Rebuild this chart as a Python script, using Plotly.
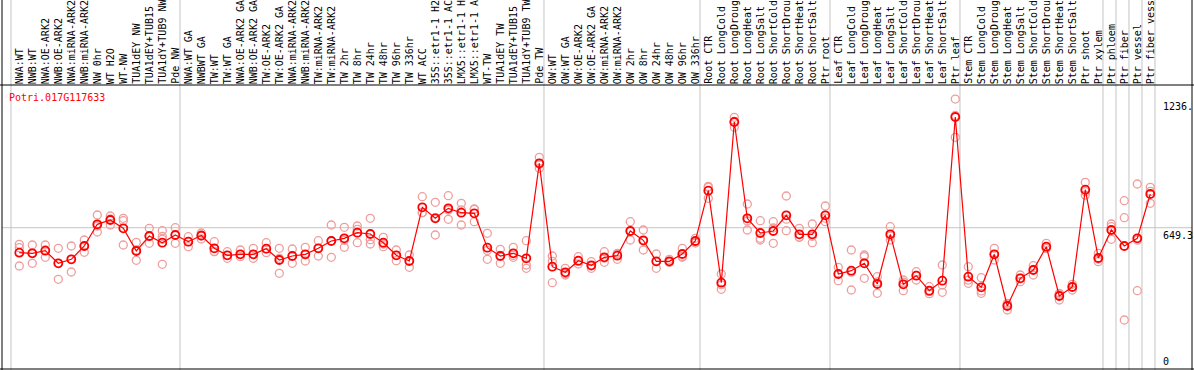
import plotly.graph_objects as go

# ---------------- data ----------------
labels = [
    "NWA:WT", "NWB:WT", "NWA:OE-ARK2", "NWB:OE-ARK2", "NWA:miRNA-ARK2", "NWB:miRNA-ARK2",
    "NW 0hr", "WT H2O", "WT-NW", "TUA1dEY NW", "TUA1dEY+TUB15", "TUA1dY+TUB9 NW", "Pde NW",
    "NWA:WT GA", "NWBWT GA", "TW:WT", "TW:WT GA", "NWA:OE-ARK2 GA", "NWB:OE-ARK2 GA",
    "TW:OE-ARK2", "TW:OE-ARK2 GA", "NWA:miRNA-ARK2", "NWB:miRNA-ARK2", "TW:miRNA-ARK2",
    "TW:miRNA-ARK2", "TW 2hr", "TW 8hr", "TW 24hr", "TW 48hr", "TW 96hr", "TW 336hr",
    "WT ACC", "35S::etr1-1 H2O", "35S::etr1-1 ACC", "LMX5::etr1-1 H2O", "LMX5::etr1-1 ACC",
    "WT-TW", "TUA1dEY TW", "TUA1dEY+TUB15", "TUA1dY+TUB9 TW", "Pde TW",
    "OW:WT", "OW:WT GA", "OW:OE-ARK2", "OW:OE-ARK2 GA", "OW:miRNA-ARK2", "OW:miRNA-ARK2",
    "OW 2hr", "OW 8hr", "OW 24hr", "OW 48hr", "OW 96hr", "OW 336hr",
    "Root CTR", "Root LongCold", "Root LongDrought", "Root LongHeat", "Root LongSalt",
    "Root ShortCold", "Root ShortDrought", "Root ShortHeat", "Root ShortSalt", "Ptr root",
    "Leaf CTR", "Leaf LongCold", "Leaf LongDrought", "Leaf LongHeat", "Leaf LongSalt",
    "Leaf ShortCold", "Leaf ShortDrought", "Leaf ShortHeat", "Leaf ShortSalt", "Ptr leaf",
    "Stem CTR", "Stem LongCold", "Stem LongDrought", "Stem LongHeat", "Stem LongSalt",
    "Stem ShortCold", "Stem ShortDrought", "Stem ShortHeat", "Stem ShortSalt",
    "Ptr shoot", "Ptr xylem", "Ptr phloem", "Ptr fiber", "Ptr vessel", "Ptr fiber vessel",
]

means = [
    535.3, 532.6, 544.5, 487.0, 505.2, 565.9, 664.8, 684.5, 646.6, 543.1,
    611.5, 580.9, 616.1, 585.5, 613.8, 555.4, 523.5, 528.0, 528.0, 553.6,
    502.1, 520.3, 528.0, 555.4, 588.7, 601.0, 626.5, 620.6, 580.9, 523.5,
    497.5, 742.4, 692.2, 737.8, 717.7, 715.0, 558.1, 520.3, 532.6, 509.8,
    943.0, 471.5, 446.0, 498.9, 477.9, 514.4, 521.7, 634.3, 591.9, 496.1,
    496.1, 529.4, 588.7, 818.1, 398.5, 1131.3, 692.2, 625.2, 634.3, 705.9,
    619.2, 619.2, 705.9, 438.2, 453.3, 487.0, 392.6, 619.2, 391.2, 430.5,
    362.1, 407.7, 1154.1, 425.9, 377.6, 528.0, 292.3, 418.6, 456.5, 562.7,
    337.9, 378.9, 822.6, 511.2, 638.9, 565.9, 601.0, 803.0,
]

rep_a = [
    573.6, 570.5, 570.5, 555.4, 565.9, 593.3, 707.3, 702.7, 692.2, 582.8,
    646.6, 635.7, 649.3, 608.3, 625.2, 585.5, 539.9, 547.7, 555.4, 581.0,
    555.4, 552.2, 560.0, 590.1, 661.7, 651.2, 657.1, 692.2, 605.6, 547.7,
    524.9, 790.7, 765.2, 795.3, 760.6, 733.2, 623.8, 550.8, 560.0, 590.1,
    970.4, 520.3, 464.2, 517.1, 494.3, 539.9, 532.6, 676.7, 638.9, 529.4,
    505.2, 555.4, 601.0, 833.6, 438.2, 1152.8, 757.4, 681.3, 676.7, 793.9,
    646.6, 666.2, 748.3, 468.8, 547.7, 524.9, 425.9, 653.9, 410.9, 448.7,
    380.3, 479.3, 1236.0, 471.5, 421.3, 555.4, 304.6, 433.7, 476.1, 578.2,
    350.2, 391.2, 856.4, 532.6, 666.2, 772.5, 848.6, 833.6,
]

rep_b = [
    558.1, 532.6, 547.7, 487.0, 505.2, 565.9, 657.1, 689.0, 681.3, 547.7,
    608.3, 596.4, 616.1, 585.5, 611.5, 539.9, 509.8, 517.1, 509.8, 535.3,
    441.4, 487.0, 497.5, 520.3, 514.4, 560.0, 580.9, 575.0, 562.7, 498.9,
    468.8, 717.7, 616.1, 687.6, 661.7, 676.7, 505.2, 487.0, 514.4, 479.3,
    920.2, 398.5, 433.7, 483.8, 464.2, 491.6, 505.2, 593.3, 547.7, 464.2,
    491.6, 514.4, 585.5, 783.4, 368.4, 1107.2, 638.9, 593.3, 578.2, 635.7,
    605.6, 580.9, 676.7, 407.7, 365.3, 418.6, 350.2, 593.3, 362.1, 410.9,
    357.5, 388.1, 1061.6, 395.8, 350.2, 502.1, 274.1, 403.1, 433.7, 555.4,
    319.7, 365.3, 813.5, 494.3, 596.4, 694.9, 362.1, 760.6,
]

rep_c = [
    474.7, 487.0, 514.4, 414.0, 447.3, 537.2, 629.7, 661.7, 570.5, 500.7,
    578.2, 482.4, 578.2, 562.7, 597.8, 540.8, 523.5, 528.0, 528.0, 553.6,
    509.8, 521.7, 526.7, 555.4, 590.1, 591.9, 642.0, 594.6, 575.0, 523.5,
    498.9, 718.7, 695.4, 730.1, 731.0, 734.6, 545.8, 523.0, 523.0, 464.2,
    938.4, 496.1, 439.6, 495.7, 474.7, 511.2, 527.6, 632.9, 588.7, 494.8,
    491.6, 518.5, 579.6, 837.7, 389.0, 1134.1, 679.9, 601.0, 648.0, 688.1,
    605.6, 610.1, 692.7, 438.2, 446.9, 517.6, 401.7, 610.6, 400.8, 431.8,
    348.4, 354.8, 1161.4, 410.4, 361.2, 526.7, 298.2, 419.1, 459.6, 554.9,
    343.8, 380.3, 798.0, 506.6, 653.9, 228.5, 592.3, 814.9,
]

rep_d = [None] * 11 + [609.2] + [None] * 76

group_sizes = [13, 28, 12, 10, 10, 11, 1, 1, 1, 1]

gene_id = "Potri.017G117633"
ref_value = 649.3
max_value = 1236.0
tick_texts = ["1236.", "649.3", "0"]
label_chars = 14  # header column only shows this many characters

# ---------------- layout constants ----------------
W, H = 1194, 370
ML, MR, MT, MB = 2, 2, 85, 1
FONT = "DejaVu Sans Mono"
RED = "#ff0000"
PINK = "#ef9d9d"
GRID = "#c4c4c4"
plot_h = H - MT - MB
plot_w = W - ML - MR
top_paper = 1 + MT / plot_h
bot_paper = -MB / plot_h

x_idx = list(range(len(labels)))

fig = go.Figure()
for reps in (rep_a, rep_b, rep_c, rep_d):
    fig.add_trace(go.Scatter(
        x=x_idx, y=reps, mode="markers", showlegend=False, hoverinfo="skip",
        cliponaxis=False,
        marker=dict(symbol="circle-open", size=8, color=PINK,
                    line=dict(width=1.3, color=PINK)),
    ))
fig.add_trace(go.Scatter(
    x=x_idx, y=means, mode="lines+markers", showlegend=False, cliponaxis=False,
    line=dict(color=RED, width=1.2),
    marker=dict(symbol="circle-open", size=8, color=RED, line=dict(width=1.8, color=RED)),
))

shapes = []
# group separators
b = 0
bounds = [0]
for g in group_sizes:
    b += g
    bounds.append(b)
for bd in bounds:
    shapes.append(dict(type="line", xref="x", yref="paper", x0=bd - 0.64, x1=bd - 0.64,
                       y0=bot_paper - 0.01, y1=top_paper + 0.01, layer="below",
                       line=dict(color=GRID, width=1)))
# reference line
shapes.append(dict(type="line", xref="paper", yref="y", x0=0, x1=1, y0=ref_value, y1=ref_value,
                   layer="below", line=dict(color=GRID, width=1)))
# frame
shapes.append(dict(type="line", xref="paper", yref="paper", x0=-0.01, x1=1.01, y0=1, y1=1,
                   line=dict(color="black", width=1)))
shapes.append(dict(type="line", xref="paper", yref="paper", x0=-0.01, x1=1.01, y0=0, y1=0,
                   line=dict(color="black", width=1)))
shapes.append(dict(type="line", xref="paper", yref="paper", x0=0, x1=0, y0=bot_paper - 0.01,
                   y1=top_paper + 0.01, line=dict(color="black", width=1)))
shapes.append(dict(type="line", xref="paper", yref="paper", x0=1, x1=1, y0=bot_paper - 0.01,
                   y1=top_paper + 0.01, line=dict(color="black", width=1)))

annotations = []
for i, lab in enumerate(labels):
    annotations.append(dict(x=i, y=1, yshift=1, xref="x", yref="paper", text=lab[:label_chars],
                            textangle=-90, xanchor="center", yanchor="bottom", showarrow=False,
                            borderpad=0, borderwidth=0,
                            font=dict(family=FONT, size=10, color="black")))
annotations.append(dict(x=5 / plot_w, y=1, yshift=-12, xref="paper", yref="paper", text=gene_id,
                        xanchor="left", yanchor="middle", showarrow=False,
                        font=dict(family=FONT, size=10, color=RED)))
lab_x = (1161 - ML) / plot_w
annotations.append(dict(x=lab_x, y=max_value, xref="paper", yref="y", text=tick_texts[0],
                        xanchor="left", yanchor="top", showarrow=False,
                        font=dict(family=FONT, size=10, color="black")))
annotations.append(dict(x=lab_x, y=ref_value, xref="paper", yref="y", text=tick_texts[1],
                        xanchor="left", yanchor="top", showarrow=False,
                        font=dict(family=FONT, size=10, color="black")))
annotations.append(dict(x=lab_x, y=0, xref="paper", yref="paper", text=tick_texts[2],
                        xanchor="left", yanchor="bottom", showarrow=False,
                        font=dict(family=FONT, size=10, color="black")))

fig.update_layout(
    width=W, height=H,
    margin=dict(l=ML, r=MR, t=MT, b=MB, pad=0),
    paper_bgcolor="white", plot_bgcolor="white",
    showlegend=False,
    xaxis=dict(range=[-1.3308, 90.208], visible=False, fixedrange=True),
    yaxis=dict(range=[5.0, 1300.1], visible=False, fixedrange=True),
    shapes=shapes, annotations=annotations,
)

fig.write_html("out.html", config={"displayModeBar": False},
               post_script="document.body.style.margin='0';")
